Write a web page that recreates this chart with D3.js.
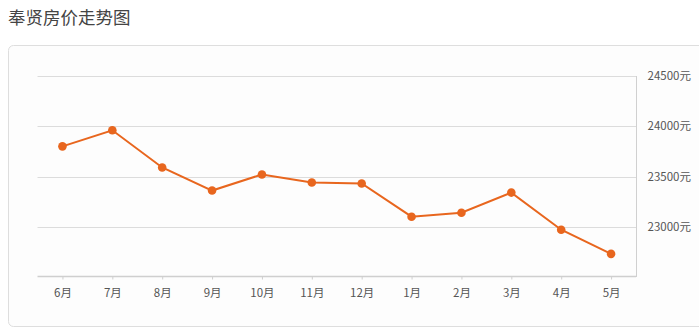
<!DOCTYPE html>
<html><head><meta charset="utf-8">
<script src="https://cdn.jsdelivr.net/npm/d3@7/dist/d3.min.js"></script>
<style>
body{margin:0;background:#fff;font-family:"Noto Sans CJK SC","Noto Sans",sans-serif;}
</style></head>
<body><svg id="c" width="699" height="333"></svg>
<script>
const title = "奉贤房价走势图";
const months = ["6月","7月","8月","9月","10月","11月","12月","1月","2月","3月","4月","5月"];
const prices = [23800,23960,23590,23360,23520,23440,23430,23100,23140,23340,22970,22730];
const yTicks = [23000,23500,24000,24500];
const yUnit = "元";

const svg = d3.select("#c");
svg.append("text").attr("x",8).attr("y",24).attr("font-size",17.5).attr("fill","#444")
  .attr("font-family","Noto Sans CJK SC").text(title);
svg.append("rect").attr("x",8.5).attr("y",45.5).attr("width",720).attr("height",281)
  .attr("rx",5).attr("fill","#fdfdfd").attr("stroke","#dedede");

const L=37.5, R=636, T=76, B=277;
const x = d3.scalePoint().domain(months).range([L,R]).padding(0.5);
const y = d3.scaleLinear().domain([22500,24500]).range([B,T]);

// gridlines
svg.append("g").selectAll("line").data(yTicks).join("line")
  .attr("x1",L).attr("x2",R).attr("y1",d=>Math.round(y(d))+0.5).attr("y2",d=>Math.round(y(d))+0.5)
  .attr("stroke","#dcdcdc").attr("stroke-width",1);

// right axis
const ya = svg.append("g").attr("transform",`translate(${R+0.5},0)`)
  .call(d3.axisRight(y).tickValues(yTicks).tickSize(0).tickPadding(11).tickFormat(d=>d+yUnit));
ya.select(".domain").attr("d",`M0,${T}V${B}`).attr("stroke","#d0d0d0");
ya.selectAll("text").attr("font-size",11.5).attr("fill","#555").attr("font-family","Noto Sans CJK SC");

// bottom axis
const xa = svg.append("g").attr("transform",`translate(0,${B-0.5})`)
  .call(d3.axisBottom(x).tickSize(3).tickPadding(9));
xa.select(".domain").attr("d",`M${L},0H${R}`).attr("stroke","#cfcfcf").attr("stroke-width",1.5);
xa.selectAll(".tick line").attr("stroke","#cfcfcf");
xa.selectAll("text").attr("font-size",11.5).attr("fill","#555").attr("font-family","Noto Sans CJK SC");

// line
const data = months.map((m,i)=>({m,v:prices[i]}));
svg.append("path").datum(data)
  .attr("d",d3.line().x(d=>x(d.m)).y(d=>y(d.v)))
  .attr("fill","none").attr("stroke","#e8661e").attr("stroke-width",2);
svg.append("g").selectAll("circle").data(data).join("circle")
  .attr("cx",d=>x(d.m)).attr("cy",d=>y(d.v)).attr("r",4.3).attr("fill","#e8661e");
</script></body></html>
